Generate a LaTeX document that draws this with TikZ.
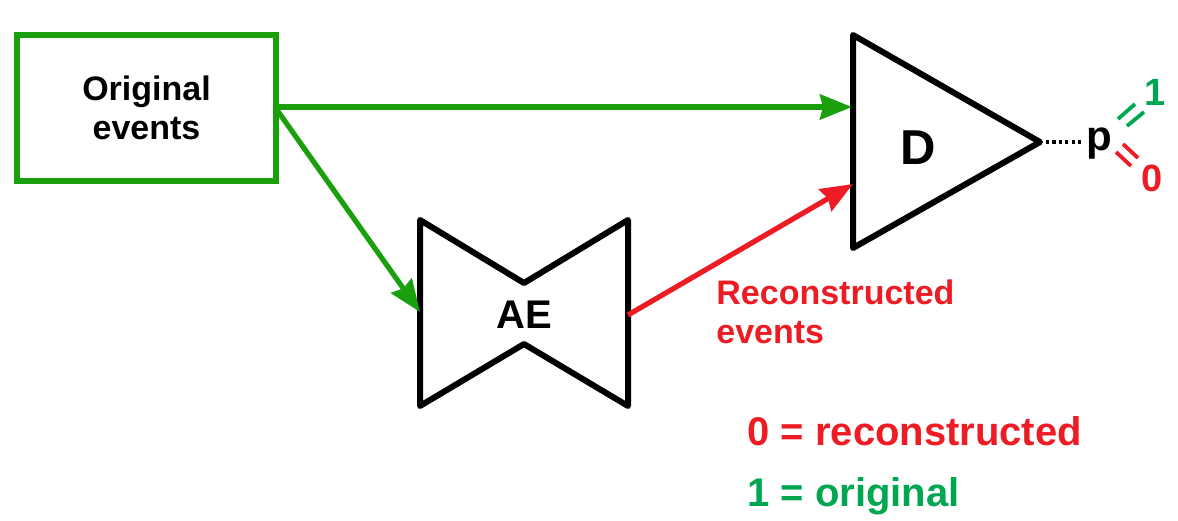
\documentclass[tikz,border=0pt]{standalone}
\usepackage{fontspec}
\setmainfont{Liberation Sans}
\usetikzlibrary{arrows.meta}
\definecolor{arrowgreen}{RGB}{26,160,12}
\definecolor{textgreen}{RGB}{0,166,80}
\definecolor{myred}{RGB}{237,28,36}
\tikzset{
  shapeline/.style={line width=3pt, line join=round, black},
  conn/.style={line width=2.6pt, -{Stealth[length=16pt,width=12.5pt,inset=1.5pt]}},
  lbl/.style={font=\bfseries\fontsize{17}{19.5}\selectfont, inner sep=0pt},
  legend/.style={font=\bfseries\fontsize{20}{24}\selectfont, inner sep=0pt, anchor=base west},
  eqline/.style={line width=1.9pt},
}
\begin{document}
\begin{tikzpicture}[x=0.5pt,y=-0.5pt]
\useasboundingbox (0,0) rectangle (1178,520);
% Original events box
\node[draw=arrowgreen, line width=3pt, minimum width=129.5pt, minimum height=73pt, inner sep=0pt,
      align=center, lbl] (orig) at (146.5,108) {Original\\events};
% AE bowtie
\coordinate (aeTL) at (420,220);
\coordinate (aeBL) at (420,406);
\coordinate (aeTR) at (628,220);
\coordinate (aeBR) at (628,406);
\coordinate (aeNT) at (524,283);
\coordinate (aeNB) at (524,344);
\draw[shapeline] (aeTL) -- (aeNT) -- (aeTR) -- (aeBR) -- (aeNB) -- (aeBL) -- cycle;
\node[font=\bfseries\fontsize{20}{24}\selectfont, inner sep=0pt] (ae) at (524,315) {AE};
\coordinate (aeIn) at (420,312);
\coordinate (aeOut) at (628,315);
% D triangle
\coordinate (dT) at (853,35);
\coordinate (dB) at (853,248);
\coordinate (dA) at (1040,142);
\draw[shapeline] (dT) -- (dA) -- (dB) -- cycle;
\node[font=\bfseries\fontsize{24.5}{28}\selectfont, inner sep=0pt] (d) at (918,148) {D};
\coordinate (dIn1) at (852,107);
\coordinate (dIn2) at (853,184);
% connectors
\coordinate (origOut) at (277,107);
\coordinate (origOut2) at (277,110);
\draw[conn, arrowgreen] (origOut) -- (dIn1);
\draw[conn, arrowgreen] (origOut2) -- (aeIn);
\draw[conn, myred] (aeOut) -- (dIn2);
% output p
\node[font=\bfseries\fontsize{21}{24}\selectfont, inner sep=0pt, anchor=base] (p) at (1099,150) {p};
\coordinate (pIn) at (1083,142);
\coordinate (dOut) at (1046,142);
\draw[line width=1.6pt, dash pattern=on 1.6pt off 1.6pt] (dOut) -- (pIn);
\draw[eqline, textgreen] (1118,119) -- (1135,104);
\draw[eqline, textgreen] (1127,126) -- (1144,112);
\draw[eqline, myred] (1123,144) -- (1138,158);
\draw[eqline, myred] (1116,152) -- (1131,166);
\node[font=\bfseries\fontsize{19}{22}\selectfont, inner sep=0pt, textgreen] (one) at (1155,92) {1};
\node[font=\bfseries\fontsize{19}{22}\selectfont, inner sep=0pt, myred] (zero) at (1152,178) {0};
% reconstructed label (base anchor = last line)
\node[lbl, myred, anchor=base west, align=left] (rec) at (716,343) {Reconstructed\\events};
% legend
\node[legend, myred] (leg0) at (747,445) {0 = reconstructed};
\node[legend, textgreen] (leg1) at (747,506) {1 = original};
\end{tikzpicture}
\end{document}
